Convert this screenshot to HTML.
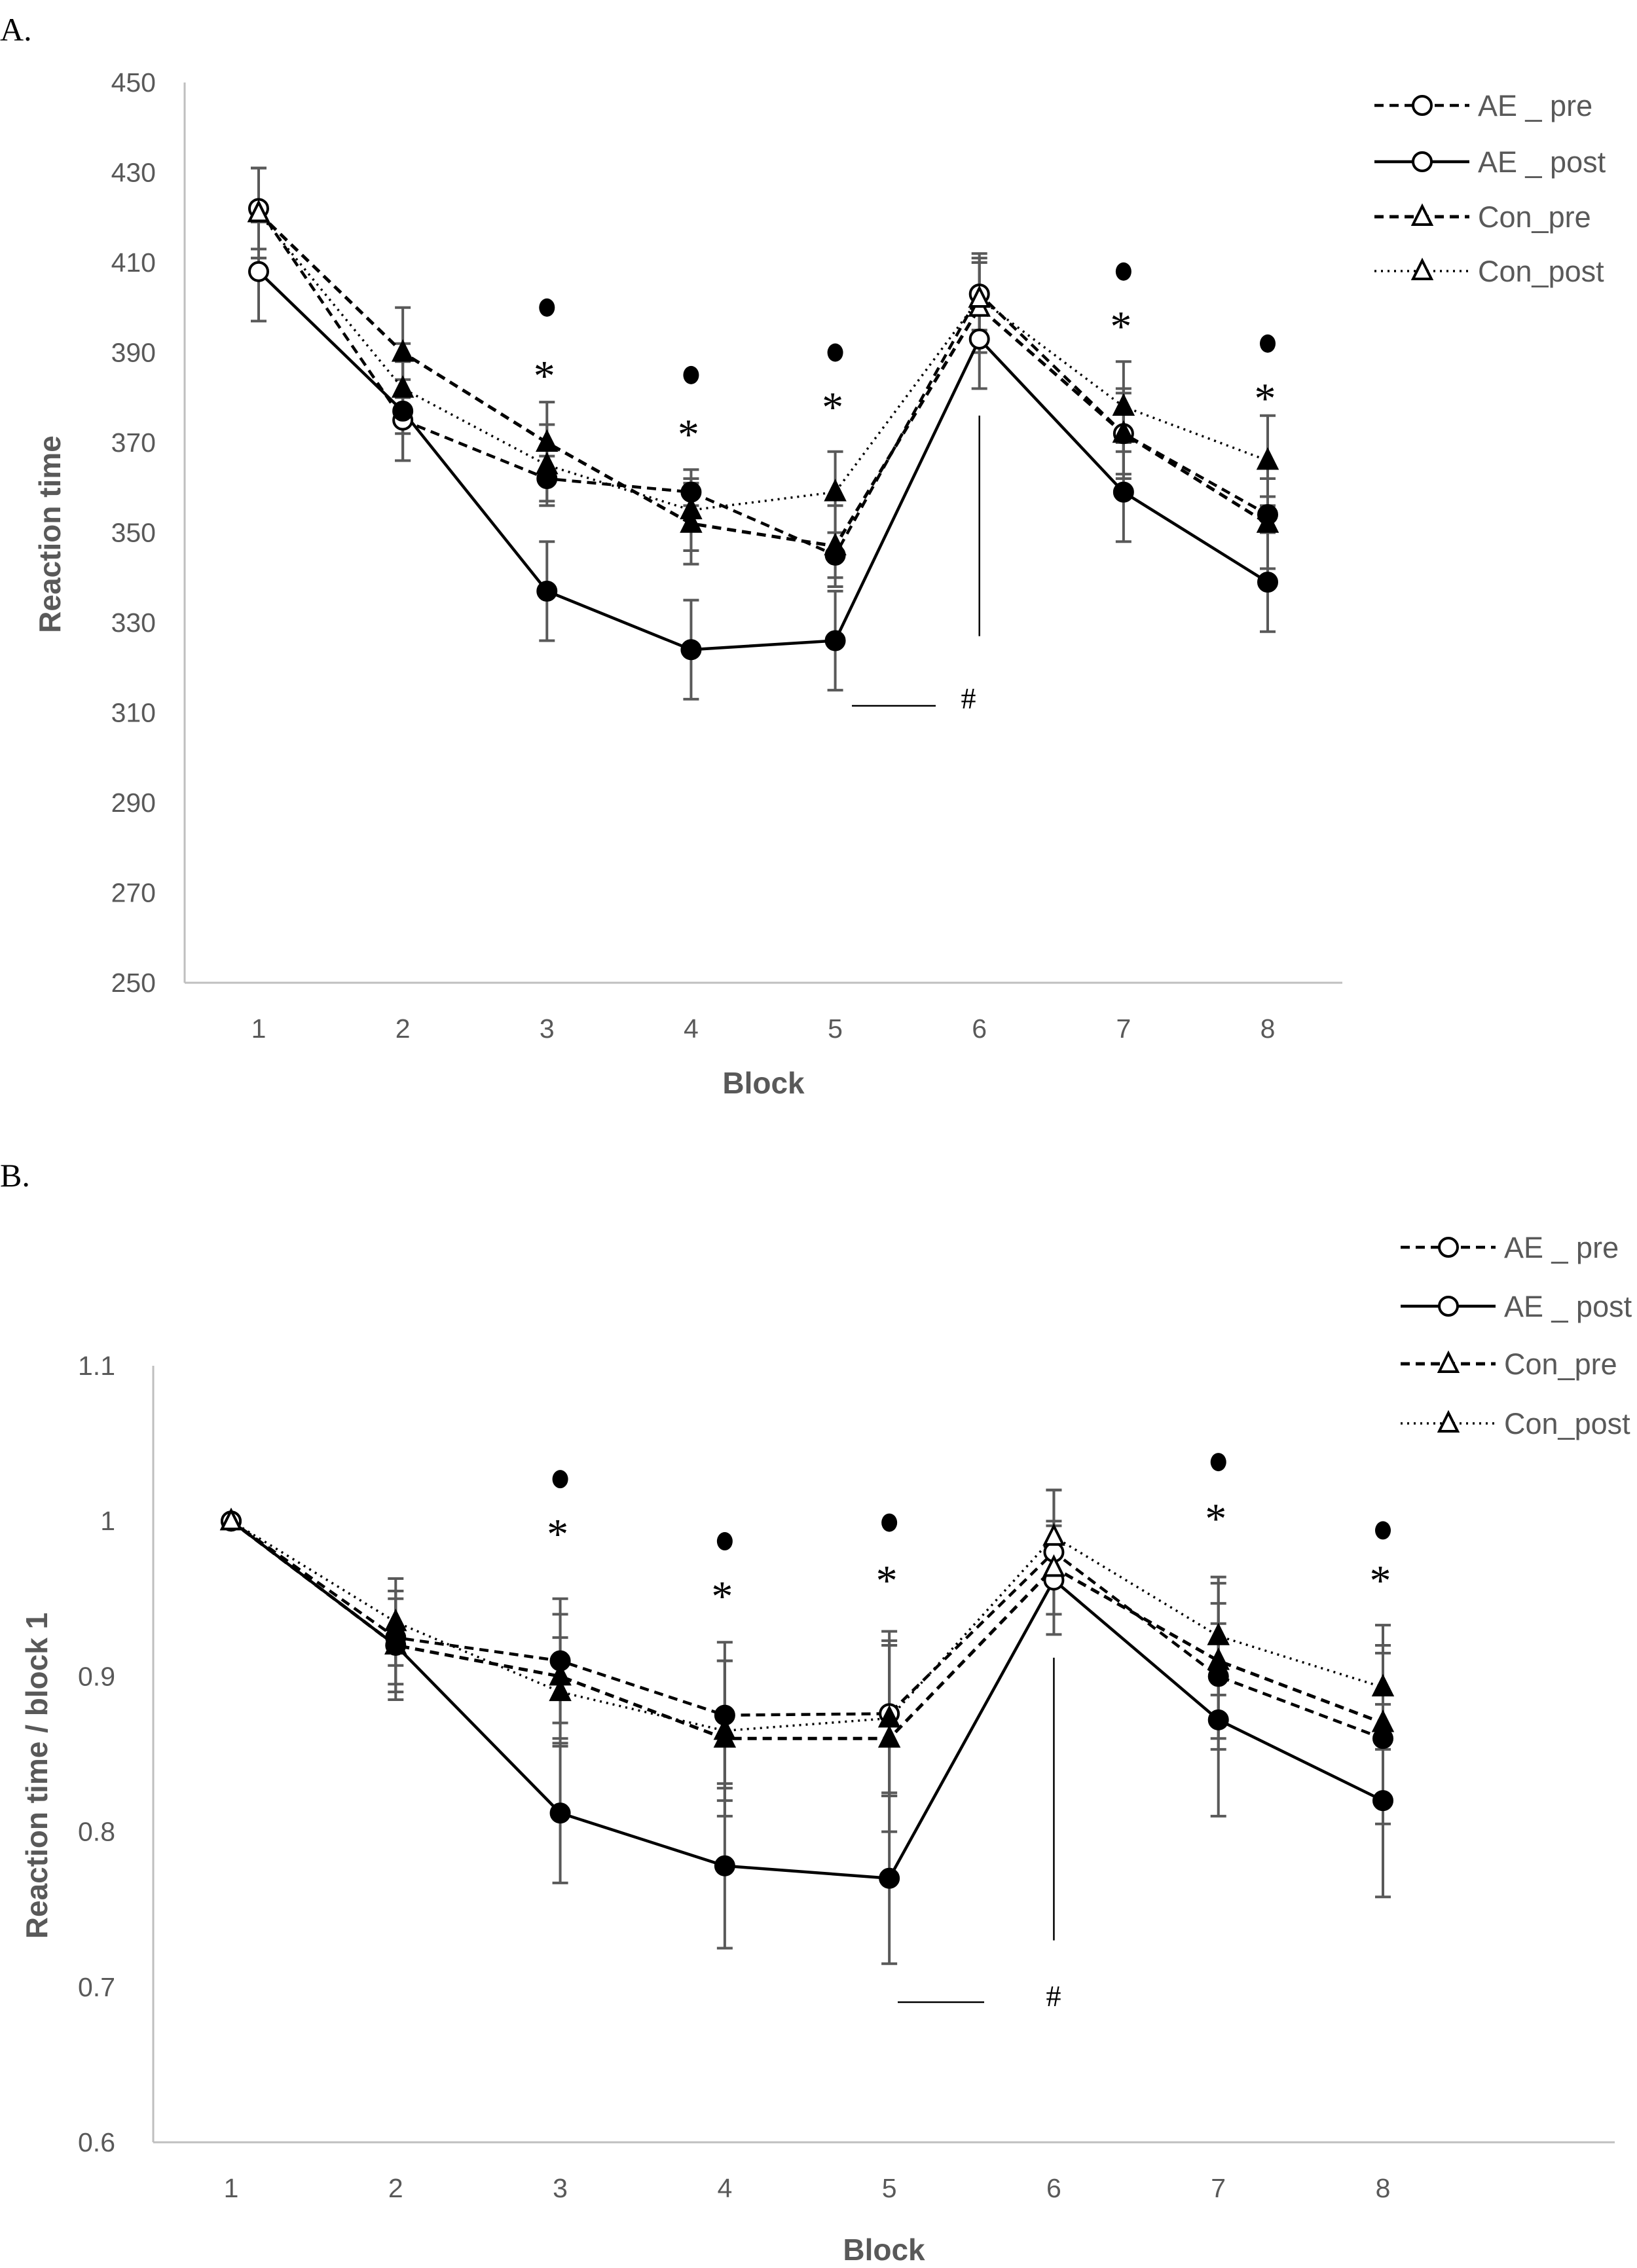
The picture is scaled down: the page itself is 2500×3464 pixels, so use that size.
<!DOCTYPE html>
<html><head><meta charset="utf-8"><style>
html,body{margin:0;padding:0;background:#fff;}
svg{display:block;}
text{font-family:"Liberation Sans",sans-serif;}
</style></head><body>
<svg id="root" width="2500" height="3464" viewBox="0 0 2500 3464" xmlns="http://www.w3.org/2000/svg">
<text x="0" y="62" font-size="50" fill="#000" style="font-family:'Liberation Serif',serif">A.</text>
<text x="0" y="1812" font-size="50" fill="#000" style="font-family:'Liberation Serif',serif">B.</text>
<g id="chartA"></g>
<g id="chartB"></g>
</svg>
<script>
var blocks=[1,2,3,4,5,6,7,8];
var seriesNames=["AE _ pre","AE _ post","Con_pre","Con_post"];
// Chart A values
var aAEpre=[422,375,362,359,345,403,372,354];
var aAEpost=[408,377,337,324,326,393,359,339];
var aConpre=[421,390,370,352,347,400,372,352];
var aConpost=[421,382,365,355,359,402,378,366];
var aErrAEpre=[9,9,5,3,5,8,9,4];
var aErrAEpost=[11,11,11,11,11,11,11,11];
var aErrConpre=[10,10,9,9,9,10,10,10];
var aErrConpost=[10,10,9,9,9,10,10,10];
var aTicks=[250,270,290,310,330,350,370,390,410,430,450];
var aDotBlocks=[3,4,5,7,8];
var aDotVals=[400,385,390,408,392];
var aStarVals=[386,373,379,397,381];
// Chart B values
var bAEpre=[1,0.925,0.910,0.875,0.876,0.980,0.900,0.860];
var bAEpost=[1,0.920,0.812,0.778,0.770,0.962,0.872,0.820];
var bConpre=[1,0.920,0.900,0.860,0.860,0.970,0.910,0.870];
var bConpost=[1,0.935,0.890,0.865,0.873,0.990,0.926,0.893];
var bErrAEpre=[0,0.03,0.04,0.047,0.053,0.04,0.047,0.055];
var bErrAEpost=[0,0.035,0.045,0.053,0.055,0.035,0.062,0.062];
var bErrConpre=[0,0.03,0.04,0.05,0.06,0.03,0.05,0.05];
var bErrConpost=[0,0.028,0.035,0.045,0.05,0.03,0.038,0.04];
var bTicks=[0.6,0.7,0.8,0.9,1.0,1.1];
var bTickLabels=["0.6","0.7","0.8","0.9","1","1.1"];
var bDotBlocks=[3,4,5,7,8];
var bDotVals=[1.027,0.987,0.999,1.038,0.994];
var bStarVals=[0.995,0.955,0.965,1.005,0.965];

var NS="http://www.w3.org/2000/svg";
function mk(parent,tag,attrs){var e=document.createElementNS(NS,tag);for(var k in attrs)e.setAttribute(k,attrs[k]);parent.appendChild(e);return e;}

function drawChart(g,cfg){
  var ymin=cfg.ymin,ymax=cfg.ymax;
  function X(b){return cfg.x1+(b-1)*(cfg.x8-cfg.x1)/7;}
  function Y(v){return cfg.yBot-(v-ymin)/(ymax-ymin)*(cfg.yBot-cfg.yTop);}
  var ax=mk(g,'line',{x1:cfg.axX,y1:cfg.yTop,x2:cfg.axX,y2:cfg.yBot,stroke:'#bfbfbf','stroke-width':3});
  
  var bx=mk(g,'line',{x1:cfg.axX,y1:cfg.yBot,x2:cfg.axR,y2:cfg.yBot,stroke:'#bfbfbf','stroke-width':3});
  
  cfg.ticks.forEach(function(t,i){
    var tx=mk(g,'text',{x:cfg.tickX,y:Y(t)+14,'text-anchor':'end','font-size':41,fill:'#595959'});
    tx.textContent=cfg.tickLabels?cfg.tickLabels[i]:String(t);
    
  });
  blocks.forEach(function(b){
    var tx=mk(g,'text',{x:X(b),y:cfg.yBot+84,'text-anchor':'middle','font-size':41,fill:'#595959'});
    tx.textContent=String(b);
    
  });
  var xt=mk(g,'text',{x:(cfg.axX+cfg.axR)/2,y:cfg.xTitleY,'text-anchor':'middle','font-size':46,'font-weight':'bold',fill:'#595959'});
  xt.textContent='Block';
  var yt=mk(g,'text',{x:0,y:0,'text-anchor':'middle','font-size':46,'font-weight':'bold',fill:'#595959',transform:'translate('+cfg.yTitleX+','+cfg.yTitleY+') rotate(-90)'});
  yt.textContent=cfg.yTitle;

  var styles=[{dash:'14 9',w:4.5,m:'c'},{dash:'',w:4.5,m:'c'},{dash:'14 9',w:5,m:'t'},{dash:'3 7',w:3.5,m:'t'}];
  cfg.series.forEach(function(s,si){
    s.forEach(function(v,i){
      var e=cfg.errs[si][i];if(!e)return;
      var x=X(blocks[i]);
      var eb=mk(g,'path',{d:'M'+x+' '+Y(v-e)+'V'+Y(v+e)+'M'+(x-12)+' '+Y(v-e)+'h24M'+(x-12)+' '+Y(v+e)+'h24',stroke:'#595959','stroke-width':4,fill:'none'});
      
    });
  });
  cfg.series.forEach(function(s,si){
    var st=styles[si];
    var d=s.map(function(v,i){return (i?'L':'M')+X(blocks[i])+' '+Y(v);}).join('');
    var ln=mk(g,'path',{d:d,stroke:'#000','stroke-width':st.w,fill:'none','stroke-dasharray':st.dash});
    
  });
  cfg.series.forEach(function(s,si){
    var st=styles[si];
    s.forEach(function(v,i){
      var x=X(blocks[i]),y=Y(v);
      var open=cfg.open[si].indexOf(blocks[i])>=0;
      var m;
      if(st.m==='c') m=mk(g,'circle',{cx:x,cy:y,r:14,fill:open?'#fff':'#000',stroke:'#000','stroke-width':4});
      else m=mk(g,'path',{d:'M'+x+' '+(y-16)+'L'+(x+14)+' '+(y+12)+'L'+(x-14)+' '+(y+12)+'Z',fill:open?'#fff':'#000',stroke:'#000','stroke-width':4});
      
    });
  });
  cfg.dotBlocks.forEach(function(b,i){
    var dt=mk(g,'ellipse',{cx:X(b),cy:Y(cfg.dotVals[i]),rx:12,ry:14,fill:'#000'});
    
    var sr=mk(g,'text',{x:X(b)-4,y:Y(cfg.starVals[i])+30,'text-anchor':'middle','font-size':66,fill:'#000',style:"font-family:'Liberation Serif',serif"});
    sr.textContent='*';
  });
  var vl=mk(g,'line',{x1:X(6),y1:Y(cfg.vline[0]),x2:X(6),y2:Y(cfg.vline[1]),stroke:'#000','stroke-width':2.5});
  
  var hl=mk(g,'line',{x1:cfg.hline[0],y1:cfg.hline[2],x2:cfg.hline[1],y2:cfg.hline[2],stroke:'#000','stroke-width':2.5});
  
  var hs=mk(g,'text',{x:cfg.hash[0],y:cfg.hash[1],'text-anchor':'middle','font-size':46,fill:'#000',style:"font-family:'Liberation Serif',serif"});
  hs.textContent='#';
  seriesNames.forEach(function(n,i){
    var st=styles[i];var y=cfg.legY[i];var lx=cfg.legX;
    var lg=mk(g,'g',{});
    
    mk(lg,'line',{x1:lx,y1:y,x2:lx+145,y2:y,stroke:'#000','stroke-width':st.w,'stroke-dasharray':st.dash});
    var cx=lx+73;
    if(st.m==='c') mk(lg,'circle',{cx:cx,cy:y,r:14,fill:'#fff',stroke:'#000','stroke-width':4});
    else mk(lg,'path',{d:'M'+cx+' '+(y-16)+'L'+(cx+14)+' '+(y+12)+'L'+(cx-14)+' '+(y+12)+'Z',fill:'#fff',stroke:'#000','stroke-width':4});
    var t=mk(lg,'text',{x:lx+158,y:y+16,'font-size':45,fill:'#595959'});t.textContent=n;
  });
}
drawChart(document.getElementById('chartA'),{
  ymin:250,ymax:450,yTop:126,yBot:1501,axX:282,axR:2050,x1:395,x8:1936,tickX:238,
  xTitleY:1670,yTitleX:92,yTitleY:816,yTitle:'Reaction time',ticks:aTicks,
  series:[aAEpre,aAEpost,aConpre,aConpost],errs:[aErrAEpre,aErrAEpost,aErrConpre,aErrConpost],
  open:[[1,2,6,7],[1,6],[1,6],[1,6]],
  dotBlocks:aDotBlocks,dotVals:aDotVals,starVals:aStarVals,
  vline:[376,327],hline:[1301,1429,1078],hash:[1479,1082],
  legX:2099,legY:[161,247,331,414]
});
drawChart(document.getElementById('chartB'),{
  ymin:0.6,ymax:1.1,yTop:2086,yBot:3272,axX:234,axR:2466,x1:353,x8:2112,tickX:176,
  xTitleY:3452,yTitleX:72,yTitleY:2712,yTitle:'Reaction time / block 1',ticks:bTicks,tickLabels:bTickLabels,
  series:[bAEpre,bAEpost,bConpre,bConpost],errs:[bErrAEpre,bErrAEpost,bErrConpre,bErrConpost],
  open:[[1,5,6],[1,6],[1,6],[1,6]],
  dotBlocks:bDotBlocks,dotVals:bDotVals,starVals:bStarVals,
  vline:[0.912,0.73],hline:[1371,1503,3058],hash:[1609,3064],
  legX:2139,legY:[1905,1995,2083,2174]
});
</script>
</body></html>
